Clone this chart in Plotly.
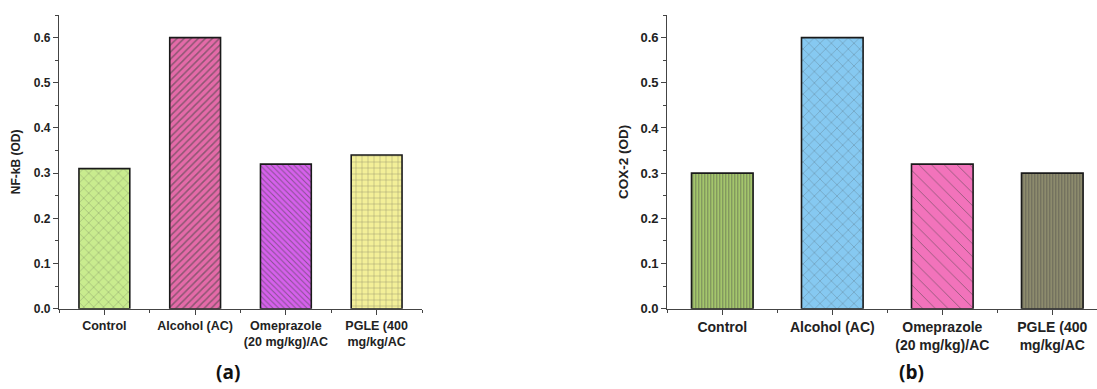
import plotly.graph_objects as go

# Groups shown on both panels
categories = ["Control", "Alcohol (AC)", "Omeprazole<br>(20 mg/kg)/AC", "PGLE (400<br>mg/kg/AC"]

# Panel (a): NF-kB optical density
nfkb_values = [0.31, 0.60, 0.32, 0.34]
# Panel (b): COX-2 optical density
cox2_values = [0.30, 0.60, 0.32, 0.30]

y_ticks = [0.0, 0.1, 0.2, 0.3, 0.4, 0.5, 0.6]
y_tick_labels = ["0.0", "0.1", "0.2", "0.3", "0.4", "0.5", "0.6"]

# Fill styles per bar
nfkb_colors = ["#c9ec8e", "#e46aa8", "#d660ec", "#f3ef98"]
nfkb_shapes = ["x", "/", "\\", "+"]
nfkb_sizes = [7, 5, 4, 6]
nfkb_solid = [0.12, 0.3, 0.25, 0.14]

cox2_colors = ["#a4c66c", "#86c9f1", "#f273bb", "#8d8b6d"]
cox2_shapes = ["|", "x", "\\", "|"]
cox2_sizes = [3, 8, 9, 3]
cox2_solid = [0.3, 0.1, 0.1, 0.3]

positions = list(range(len(categories)))
W, H = 1097, 389

fig = go.Figure()

def add_panel(values, colors, shapes, sizes, solid, xa, ya):
    fig.add_trace(go.Bar(
        x=positions, y=values, width=0.56,
        xaxis=xa, yaxis=ya,
        marker=dict(
            color=colors,
            line=dict(color="#1a1a1a", width=1.6),
            pattern=dict(shape=shapes, size=sizes, solidity=solid,
                         fgcolor="#333333", fgopacity=0.55, fillmode="overlay"),
        ),
        showlegend=False, hoverinfo="skip",
    ))

add_panel(nfkb_values, nfkb_colors, nfkb_shapes, nfkb_sizes, nfkb_solid, "x", "y")
add_panel(cox2_values, cox2_colors, cox2_shapes, cox2_sizes, cox2_solid, "x2", "y2")

FONT = "Liberation Sans, Arial, sans-serif"

y_bottom = (H - 308.7) / H
y_top = (H - 15) / H

def xaxis_cfg(domain, rng, size):
    return dict(
        domain=domain, range=rng, tickvals=positions, automargin=False,
        ticktext=["<b>%s</b>" % c for c in categories],
        tickfont=dict(family=FONT, size=size, color="#222"),
        showline=True, linecolor="#444", linewidth=1.2,
        ticks="outside", ticklen=5, tickcolor="#444", tickwidth=1.2,
        showgrid=False, zeroline=False, fixedrange=True,
        minor=dict(tick0=0.5, dtick=1, ticks="outside", ticklen=3,
                   tickcolor="#444", tickwidth=1.2, showgrid=False),
    )

def yaxis_cfg(anchor, title, tsize, lsize, standoff):
    return dict(
        domain=[y_bottom, y_top], range=[0, 0.65], anchor=anchor, automargin=False,
        tickvals=y_ticks, ticktext=["<b>%s</b>" % s for s in y_tick_labels],
        tickfont=dict(family=FONT, size=tsize, color="#222"),
        showline=True, linecolor="#444", linewidth=1.2,
        ticks="outside", ticklen=5, tickcolor="#444", tickwidth=1.2,
        showgrid=False, zeroline=False, fixedrange=True,
        minor=dict(dtick=0.05, ticks="outside", ticklen=3,
                   tickcolor="#444", tickwidth=1.2, showgrid=False),
        title=dict(text="<b>%s</b>" % title, standoff=standoff,
                   font=dict(family=FONT, size=lsize, color="#222")),
    )

x1_dom = [59 / W, 422 / W]
x2_dom = [667.3 / W, 1.0]
x2_right = -0.5 + (W - 667.3) / 110.0

fig.update_layout(
    width=W, height=H,
    margin=dict(l=0, r=0, t=0, b=0),
    paper_bgcolor="white", plot_bgcolor="white",
    xaxis=xaxis_cfg(x1_dom, [-0.5, 3.5], 12.5),
    yaxis=yaxis_cfg("x", "NF-kB (OD)", 12, 12, 10),
    xaxis2=dict(xaxis_cfg(x2_dom, [-0.5, x2_right], 14), anchor="y2"),
    yaxis2=yaxis_cfg("x2", "COX-2 (OD)", 13, 13.5, 8),
    barmode="overlay",
)

label_font = dict(family="Open Sans, Noto Sans, sans-serif", size=19, color="#111")
fig.add_annotation(text="<b>(a)</b>", x=228 / W, y=(H - 372) / H, xref="paper", yref="paper",
                   showarrow=False, font=label_font, xanchor="center", yanchor="middle")
fig.add_annotation(text="<b>(b)</b>", x=911 / W, y=(H - 372) / H, xref="paper", yref="paper",
                   showarrow=False, font=label_font, xanchor="center", yanchor="middle")

fig.write_html("out.html")
